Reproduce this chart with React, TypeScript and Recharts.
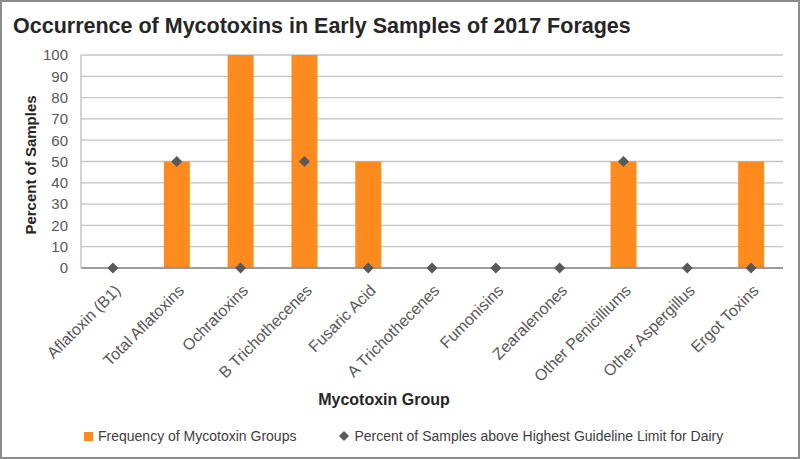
import { ComposedChart, Bar, Line, XAxis, YAxis, CartesianGrid } from 'recharts';

const CATEGORIES = [
  'Aflatoxin (B1)',
  'Total Aflatoxins',
  'Ochratoxins',
  'B Trichothecenes',
  'Fusaric Acid',
  'A Trichothecenes',
  'Fumonisins',
  'Zearalenones',
  'Other Penicilliums',
  'Other Aspergillus',
  'Ergot Toxins',
];
const FREQUENCY = [0, 50, 100, 100, 50, 0, 0, 0, 50, 0, 50];
const ABOVE_LIMIT = [0, 50, 0, 50, 0, 0, 0, 0, 50, 0, 0];
const Y_TICKS = [0, 10, 20, 30, 40, 50, 60, 70, 80, 90, 100];

const ORANGE = '#FF8A1E';
const DIAMOND = '#595959';
const FONT = '"Liberation Sans", Arial, sans-serif';

const data = CATEGORIES.map((name, i) => ({
  name,
  frequency: FREQUENCY[i],
  above: ABOVE_LIMIT[i],
}));

const XTick = (props: any) => {
  const { x, y, payload } = props;
  return (
    <g transform={`translate(${x + 5},${y + 12}) rotate(-45)`}>
      <text x={0} y={0} dy={5} textAnchor="end" fill="#595959" fontSize={16} fontFamily={FONT}>
        {payload.value}
      </text>
    </g>
  );
};

const DiamondDot = (props: any) => {
  const { cx, cy, index } = props;
  if (cx == null || cy == null) return <g key={index} />;
  const r = 5.5;
  return (
    <path
      key={index}
      d={`M${cx},${cy - r} L${cx + r},${cy} L${cx},${cy + r} L${cx - r},${cy} Z`}
      fill={DIAMOND}
    />
  );
};

export default function App() {
  return (
    <div
      style={{
        position: 'absolute',
        left: 0,
        top: 0,
        width: 800,
        height: 459,
        boxSizing: 'border-box',
        border: '2px solid #8c8c8c',
        background: '#fff',
        fontFamily: FONT,
      }}
    >
      <div
        style={{
          position: 'absolute',
          left: 11,
          top: 12,
          fontSize: 21.5,
          fontWeight: 'bold',
          color: '#262626',
          whiteSpace: 'nowrap',
        }}
      >
        Occurrence of Mycotoxins in Early Samples of 2017 Forages
      </div>
      <div style={{ position: 'absolute', left: -2, top: -2 }}>
        <ComposedChart
          width={800}
          height={459}
          data={data}
          margin={{ top: 55, right: 17, bottom: 71, left: 31 }}
        >
          <CartesianGrid vertical={false} stroke="#C4C4C4" strokeWidth={1.3} />
          <XAxis
            dataKey="name"
            interval={0}
            height={120}
            tick={<XTick />}
            tickLine={false}
            axisLine={{ stroke: '#8A8A8A', strokeWidth: 1.3 }}
          />
          <YAxis
            width={50}
            domain={[0, 100]}
            ticks={Y_TICKS}
            interval={0}
            tickLine={false}
            tickSize={6}
            tickMargin={7}
            axisLine={{ stroke: '#BFBFBF', strokeWidth: 1.3 }}
            tick={{ fill: '#595959', fontSize: 15, fontFamily: FONT }}
          />
          <Bar dataKey="frequency" fill={ORANGE} barSize={26} isAnimationActive={false} />
          <Line
            dataKey="above"
            stroke="none"
            dot={<DiamondDot />}
            activeDot={false}
            isAnimationActive={false}
          />
        </ComposedChart>
      </div>
      <div
        style={{
          position: 'absolute',
          left: 20,
          top: 163,
          transform: 'translate(-50%, -50%) rotate(-90deg)',
          transformOrigin: 'center',
          marginLeft: 8,
          fontSize: 15,
          fontWeight: 'bold',
          color: '#262626',
          whiteSpace: 'nowrap',
        }}
      >
        Percent of Samples
      </div>
      <div
        style={{
          position: 'absolute',
          left: 382,
          top: 398,
          transform: 'translate(-50%, -50%)',
          fontSize: 16,
          fontWeight: 'bold',
          color: '#262626',
          whiteSpace: 'nowrap',
        }}
      >
        Mycotoxin Group
      </div>
      <div
        style={{
          position: 'absolute',
          left: 82,
          top: 426,
          display: 'flex',
          alignItems: 'center',
          fontSize: 14,
          color: '#404040',
          whiteSpace: 'nowrap',
        }}
      >
        <span style={{ display: 'inline-block', width: 9, height: 9, background: ORANGE, marginRight: 5 }} />
        <span>Frequency of Mycotoxin Groups</span>
        <svg width={10} height={10} style={{ marginLeft: 43, marginRight: 5 }}>
          <path d="M5,0 L10,5 L5,10 L0,5 Z" fill={DIAMOND} />
        </svg>
        <span>Percent of Samples above Highest Guideline Limit for Dairy</span>
      </div>
    </div>
  );
}
